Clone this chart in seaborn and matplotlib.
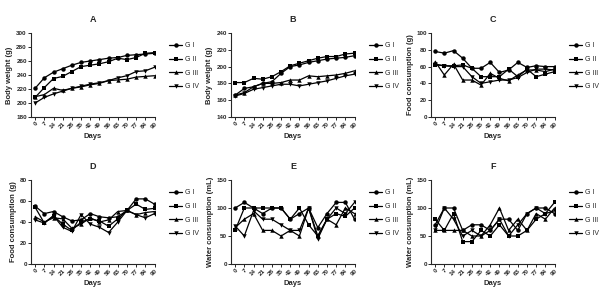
import pandas as pd
import matplotlib.pyplot as plt
import seaborn as sns
from matplotlib.lines import Line2D

# -------------------------
# Data
# -------------------------

days = ["0", "7", "14", "21", "28", "35", "42", "49", "56", "63", "70", "77", "84", "90"]
groups = ["G I", "G II", "G III", "G IV"]

a_g1 = [221, 236, 244, 249, 254, 258, 260, 262, 264, 265, 268, 269, 270, 271]
a_g2 = [208, 222, 235, 238, 245, 252, 254, 256, 259, 264, 262, 265, 271, 272]
a_g3 = [209, 212, 221, 218, 221, 223, 226, 228, 232, 233, 234, 237, 238, 239]
a_g4 = [200, 208, 213, 217, 221, 224, 227, 229, 232, 236, 239, 245, 246, 251]

b_g1 = [166, 174, 176, 180, 182, 192, 200, 202, 205, 207, 209, 210, 211, 213]
b_g2 = [181, 181, 186, 185, 188, 194, 201, 204, 207, 210, 212, 212, 215, 216]
b_g3 = [166, 169, 176, 180, 180, 181, 184, 184, 189, 188, 189, 190, 192, 195]
b_g4 = [165, 168, 173, 175, 177, 179, 179, 177, 179, 181, 183, 186, 189, 191]

c_g1 = [78, 76, 79, 70, 58, 58, 65, 53, 56, 65, 59, 61, 60, 60]
c_g2 = [62, 61, 61, 62, 58, 48, 48, 48, 57, 48, 57, 48, 51, 54]
c_g3 = [66, 50, 63, 44, 44, 38, 52, 46, 43, 50, 56, 56, 54, 57]
c_g4 = [63, 61, 60, 60, 48, 40, 42, 44, 44, 47, 53, 57, 57, 56]

d_g1 = [55, 48, 50, 45, 41, 42, 48, 45, 44, 45, 51, 62, 62, 57]
d_g2 = [54, 39, 46, 38, 32, 40, 43, 41, 36, 43, 51, 57, 52, 53]
d_g3 = [45, 40, 44, 43, 34, 38, 44, 40, 42, 50, 51, 47, 49, 50]
d_g4 = [42, 39, 46, 35, 31, 47, 38, 35, 30, 40, 51, 47, 44, 48]

e_g1 = [100, 110, 100, 90, 100, 100, 80, 90, 100, 65, 90, 110, 110, 80]
e_g2 = [60, 100, 100, 100, 100, 100, 80, 100, 70, 50, 80, 90, 85, 100]
e_g3 = [65, 80, 90, 60, 60, 50, 60, 50, 100, 50, 80, 70, 100, 90]
e_g4 = [68, 50, 95, 80, 80, 70, 60, 60, 100, 45, 80, 100, 90, 110]

f_g1 = [70, 100, 100, 60, 70, 70, 60, 80, 80, 60, 90, 100, 100, 90]
f_g2 = [80, 60, 90, 40, 40, 60, 50, 70, 50, 50, 60, 80, 90, 110]
f_g3 = [60, 60, 60, 60, 50, 50, 70, 100, 60, 80, 60, 90, 80, 100]
f_g4 = [60, 100, 80, 50, 60, 50, 60, 80, 50, 70, 90, 100, 90, 95]

panels = [
    ("A", "Body weight (g)", (180, 300, 20), [a_g1, a_g2, a_g3, a_g4]),
    ("B", "Body weight (g)", (140, 240, 20), [b_g1, b_g2, b_g3, b_g4]),
    ("C", "Food consumption (g)", (0, 100, 20), [c_g1, c_g2, c_g3, c_g4]),
    ("D", "Food consumption (g)", (0, 80, 20), [d_g1, d_g2, d_g3, d_g4]),
    ("E", "Water consumption (mL)", (0, 150, 50), [e_g1, e_g2, e_g3, e_g4]),
    ("F", "Water consumption (mL)", (0, 150, 50), [f_g1, f_g2, f_g3, f_g4]),
]

markers = {"G I": "o", "G II": "s", "G III": "^", "G IV": "v"}

# -------------------------
# Plot
# -------------------------

sns.set_style("ticks")
plt.rcParams['font.family'] = ['Liberation Sans', 'DejaVu Sans']

fig = plt.figure(figsize=(6.02, 2.94), dpi=100)

W, H = 602, 294

for i, (letter, ylabel, (ymin, ymax, ystep), series) in enumerate(panels):
    col, row = i % 3, i // 3
    x0 = 31 + 200 * col
    y_top = 33 + 147 * row
    ax = fig.add_axes([x0 / W, 1 - (y_top + 84) / H, 124 / W, 84 / H])

    long = pd.DataFrame({
        "pos": list(range(len(days))) * len(groups),
        "value": sum(series, []),
        "group": [g for g in groups for _ in days],
    })

    sns.lineplot(
        data=long, x="pos", y="value", hue="group", style="group",
        markers=markers, dashes=False, palette=["black"] * 4,
        linewidth=0.9, markersize=3.2, markeredgewidth=0,
        legend=False, ax=ax,
    )

    ax.set_xlim(-0.45, 13.05)
    ax.set_ylim(ymin, ymax)
    ax.set_yticks(range(ymin, ymax + 1, ystep))
    ax.set_xticks(range(len(days)))
    ax.set_xticklabels(days, rotation=45, ha="right", rotation_mode="anchor",
                       fontsize=4.5, fontweight="bold")
    ax.tick_params(axis="y", labelsize=4.5, length=2, width=0.7, pad=1)
    ax.tick_params(axis="x", length=2, width=0.7, pad=1)
    for lab in ax.get_yticklabels():
        lab.set_fontweight("bold")

    ax.set_xlabel("Days", fontsize=5.5, fontweight="bold", labelpad=2)
    ax.set_ylabel(ylabel, fontsize=5.5, fontweight="bold", labelpad=2)
    ax.set_title(letter, fontsize=6.5, fontweight="bold", pad=8)

    sns.despine(ax=ax)
    for sp in ["left", "bottom"]:
        ax.spines[sp].set_linewidth(0.8)

    handles = [
        Line2D([0], [0], color="black", lw=0.9, marker=markers[g],
               markersize=3.2, markeredgewidth=0)
        for g in groups
    ]
    ax.legend(handles, groups, loc="upper left", bbox_to_anchor=(1.09, 0.92),
              frameon=False, fontsize=5, handlelength=1.9,
              handletextpad=0.35, labelspacing=0.95, borderaxespad=0)

fig.savefig("out.png", dpi=100)
plt.close()
